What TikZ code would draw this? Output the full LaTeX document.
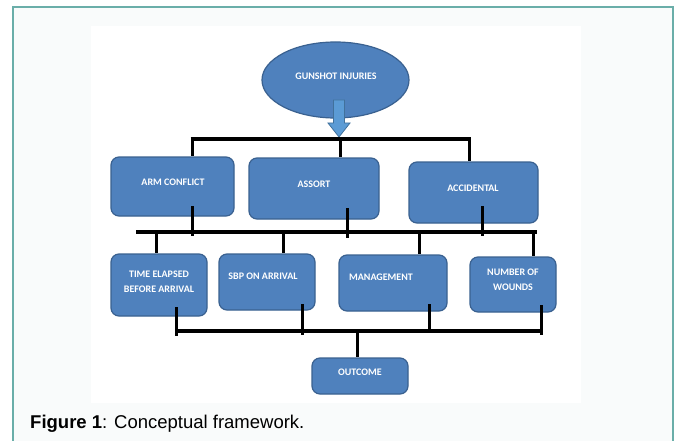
\documentclass[tikz,border=0pt]{standalone}
\usepackage{fontspec}
\setmainfont{Liberation Sans}
\newfontfamily\boxfont{Carlito}
\usetikzlibrary{shapes.geometric}
\definecolor{boxblue}{HTML}{4F81BD}
\definecolor{boxedge}{HTML}{3A6190}
\definecolor{arrowblue}{HTML}{5B9BD5}
\definecolor{arrowedge}{HTML}{41719C}
\definecolor{frameteal}{HTML}{6AAEA9}
\definecolor{framebg}{HTML}{F9FBFB}
\tikzset{
  box/.style={draw=boxedge, line width=1.2pt, fill=boxblue, rounded corners=8pt, inner sep=0pt},
  oval/.style={draw=boxedge, line width=1.2pt, fill=boxblue, ellipse, inner sep=0pt},
  boxtext/.style={text=white, font=\boxfont\bfseries\fontsize{10}{15}\selectfont, align=center, inner sep=0pt},
  bar/.style={line width=4pt},
  vline/.style={line width=3pt},
}
\begin{document}
\begin{tikzpicture}[x=1pt,y=-1pt]
\useasboundingbox (0,0) rectangle (677,441);
% frame
\fill[framebg] (13,7.5) rectangle (673,441);
\draw[frameteal, line width=2pt] (13,445) -- (13,7.5) -- (673,7.5) -- (673,445);
\fill[white] (91,26) rectangle (581,403);

% nodes
\node[oval, minimum width=147pt, minimum height=76pt] (gun) at (335.5,80) {};
\node[boxtext] (guntxt) at (336,76) {GUNSHOT INJURIES};

\node[box, minimum width=123pt, minimum height=59pt] (arm) at (172.5,186.5) {};
\node[boxtext] (armtxt) at (173,182) {ARM CONFLICT};
\node[box, minimum width=130pt, minimum height=61pt] (assort) at (314,188.5) {};
\node[boxtext] (assorttxt) at (314,184) {ASSORT};
\node[box, minimum width=129pt, minimum height=61pt] (acc) at (473.5,192.5) {};
\node[boxtext] (acctxt) at (473,188) {ACCIDENTAL};

\node[box, minimum width=96pt, minimum height=62pt] (time) at (159,285) {};
\node[boxtext] (timetxt) at (159,281.5) {TIME ELAPSED\\BEFORE ARRIVAL};
\node[box, minimum width=96pt, minimum height=56pt] (sbp) at (267,282) {};
\node[boxtext] (sbptxt) at (263,276) {SBP ON ARRIVAL};
\node[box, minimum width=108pt, minimum height=56pt] (mgmt) at (393,283) {};
\node[boxtext] (mgmttxt) at (381,277) {MANAGEMENT};
\node[box, minimum width=86pt, minimum height=55pt] (num) at (513,284.5) {};
\node[boxtext] (numtxt) at (513,280) {NUMBER OF\\WOUNDS};

\node[box, minimum width=96pt, minimum height=36pt] (out) at (360,376) {};
\node[boxtext] (outtxt) at (360,372) {OUTCOME};

% arrow from ellipse
\draw[arrowedge, fill=arrowblue, line width=0.8pt]
  (333.5,100) -- (344.5,100) -- (344.5,123) -- (350,123) -- (339,137) -- (328,123) -- (333.5,123) -- cycle;

% top bar
\coordinate (t1) at (192,139);
\coordinate (t2) at (340,139);
\coordinate (t3) at (469,139);
\draw[bar] ([xshift=-1.5pt]t1) -- ([xshift=1.5pt]t3);
\draw[vline] (t1) -- (t1 |- arm.north);
\draw[vline] (t2) -- (t2 |- assort.north);
\draw[vline] (t3) -- (t3 |- acc.north);

% middle bar
\coordinate (mL) at (136,231.5);
\coordinate (mR) at (537,231.5);
\draw[bar] (mL) -- (mR);
\draw[vline] (192,206) -- (192,235.5);
\draw[vline] (347,208) -- (347,238);
\draw[vline] (482,206) -- (482,236);
\coordinate (m1) at (156,231.5);
\coordinate (m2) at (283,231.5);
\coordinate (m3) at (419,231.5);
\coordinate (m4) at (533,231.5);
\draw[vline] (m1) -- (m1 |- time.north);
\draw[vline] (m2) -- (m2 |- sbp.north);
\draw[vline] (m3) -- (m3 |- mgmt.north);
\draw[vline] (m4) -- (m4 |- num.north);

% bottom bar
\coordinate (bL) at (176,331);
\coordinate (bR) at (543,331);
\draw[bar] (bL) -- (bR);
\draw[vline] (176,307) -- (176,336);
\draw[vline] (302,304) -- (302,335);
\draw[vline] (429,304) -- (429,331);
\draw[vline] (541,305) -- (541,335);
\coordinate (bo) at (357,331);
\draw[vline] (bo) -- (bo |- out.north);

% caption
\node[anchor=base west, inner sep=0pt, font=\fontsize{18.5}{21}\selectfont] (cap) at (30,428)
  {\textbf{Figure 1}: Conceptual framework.};
\end{tikzpicture}
\end{document}
